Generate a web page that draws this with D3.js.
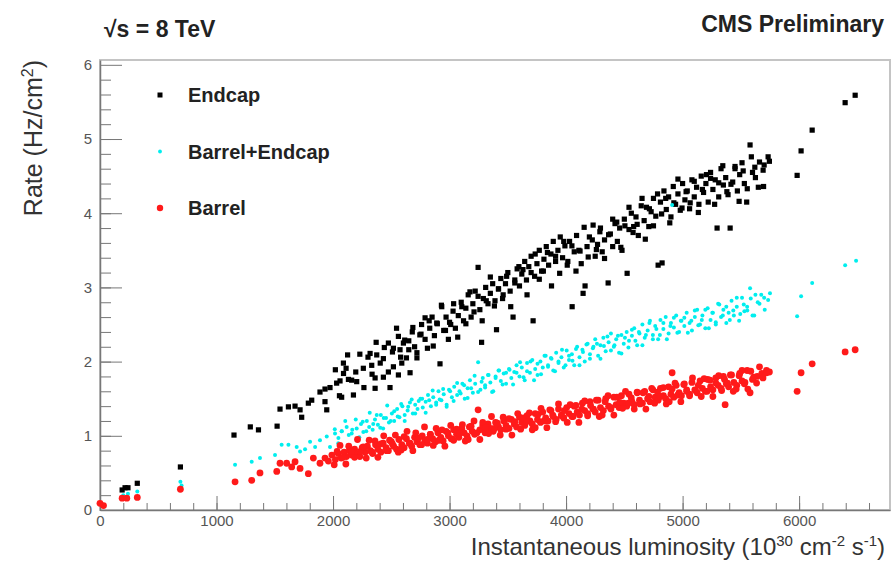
<!DOCTYPE html>
<meta charset="utf-8">
<style>
body { margin: 0; background: #ffffff; }
text { font-family: "Liberation Sans", Arial, sans-serif; }
.tick text { fill: #555555; font-size: 15px; }
</style>
<body>
<script src="https://d3js.org/d3.v7.min.js"></script>
<script>

// luminosity (1e30 cm-2 s-1), rate (Hz/cm2)
var endcapPts = [
  [190,0.27],[215,0.30],[240,0.30],[320,0.36],[690,0.58],
  [1150,1.01],[1290,1.12],[1360,1.08],[1520,1.13],[1545,1.36],[1617,1.39],[1674,1.40],[1717,1.35],[1731,1.25],
  [1788,1.44],[1817,1.48],[1888,1.59],[1931,1.63],[1974,1.65],[2031,1.71],[2060,1.74],[1931,1.46],[1946,1.35],
  [2089,1.98],[2112,1.91],[2132,1.76],[2203,1.73],[2074,1.52],[2175,1.55],[2260,1.91],[2332,1.95],[2318,2.11],
  [2375,2.09],[2432,2.04],[2361,1.78],[2432,1.79],[2361,1.64],[2489,1.65],[2475,2.25],[2518,2.18],[2561,2.34],
  [2575,2.16],[2604,2.25],[2518,1.93],[2561,1.82],[2590,1.98],
  [2630,2.05],[2650,2.28],[2661,1.85],[2680,2.40],[2700,2.20],[2720,2.12],[2745,2.36],[2760,2.50],[2790,2.30],
  [2810,2.18],[2830,2.45],[2850,2.60],[2870,2.35],[2890,2.52],[2918,1.97],[2933,2.74],[2950,2.42],[2970,2.60],[2990,2.30],
  [3010,2.50],[3030,2.68],[3050,2.45],[3075,2.62],[3100,2.80],[3120,2.55],[3140,2.72],[3160,2.90],[3185,2.60],
  [3200,2.78],[3220,2.95],[3245,3.27],[3260,2.70],[3275,2.26],[3290,2.85],[3310,3.00],[3330,2.78],[3350,2.92],
  [3370,3.05],[3390,2.82],[3403,2.43],[3420,2.98],[3440,3.12],[3460,2.90],[3480,3.05],[3500,3.20],
  [3520,2.95],[3545,2.60],[3560,3.10],[3580,3.25],[3600,3.02],[3620,3.18],[3645,3.35],[3660,3.10],[3680,3.28],
  [3700,3.42],[3717,2.55],[3730,3.15],[3750,3.32],[3770,3.50],[3790,3.22],[3810,3.38],[3830,3.55],[3850,3.30],
  [3870,3.45],[3890,3.62],[3910,3.35],[3930,3.50],[3950,3.68],[3970,3.40],[3990,3.56],
  [4010,3.30],[4030,3.62],[4052,2.74],[4070,3.48],[4090,3.70],[4110,3.50],[4130,3.32],[4146,2.92],[4163,3.02],
  [4180,3.55],[4200,3.68],[4232,3.84],[4250,3.42],[4270,3.58],[4290,3.75],[4310,3.48],[4330,3.64],[4361,3.06],
  [4380,3.72],[4400,3.55],[4420,3.86],[4440,3.62],[4460,3.80],[4480,3.50],[4500,3.92],
  [4524,3.19],[4540,3.78],[4560,4.00],[4580,3.82],[4600,3.95],[4620,3.70],[4652,4.20],[4670,3.90],[4690,4.08],
  [4710,3.82],[4730,4.02],[4750,4.20],[4770,3.96],[4790,3.30],[4810,4.15],[4824,3.33],[4840,4.30],[4860,4.05],
  [4880,4.22],[4900,3.95],[4920,4.36],[4940,4.12],[4960,4.26],[4980,4.04],
  [5000,4.40],[5020,4.18],[5040,4.30],[5060,4.06],[5080,4.45],[5100,4.22],[5120,4.35],[5140,4.12],[5160,4.50],
  [5180,4.28],[5200,4.40],[5220,4.15],[5240,4.55],[5260,4.32],[5280,4.45],[5296,3.80],[5310,4.22],[5330,4.60],
  [5350,4.38],[5370,4.48],[5390,4.25],[5408,3.80],[5430,4.42],[5450,4.60],[5470,4.30],[5490,4.52],[5510,4.68],
  [5530,4.40],[5550,4.15],[5579,4.92],[5600,4.55],[5620,4.62],[5650,4.35],[5691,4.58],[5700,4.65],[5734,4.76],[5745,4.70],
  [5983,4.51],[6017,4.84],[6112,5.12],[6395,5.49],[6481,5.59],
  // second sweep through the band
  [2020,1.89],[2055,1.54],[2090,1.84],[2125,2.09],[2160,1.75],[2195,1.86],[2230,2.10],[2265,1.65],[2300,2.06],
  [2335,1.83],[2370,2.26],[2405,1.98],[2440,2.19],[2475,1.86],[2510,2.13],[2545,2.45],[2580,2.06],[2615,2.29],
  [2650,2.16],[2685,2.46],[2720,2.05],[2755,2.37],[2790,2.59],[2825,2.55],[2860,2.21],[2895,2.51],[2930,2.76],
  [2965,2.42],[3000,2.53],[3035,2.78],[3070,2.33],[3105,2.74],[3140,2.51],[3175,2.94],[3210,2.67],[3245,2.88],
  [3280,2.55],[3315,2.82],[3350,3.14],[3385,2.75],[3420,2.98],[3455,2.85],[3490,3.15],[3525,2.74],[3560,3.06],
  [3595,3.28],[3630,3.24],[3665,2.90],[3700,3.20],[3735,3.45],[3770,3.11],[3805,3.22],[3840,3.47],[3875,3.02],
  [3910,3.42],[3945,3.19],[3980,3.62],[4015,3.35],[4050,3.56],[4085,3.22],[4120,3.49],[4155,3.81],[4190,3.41],
  [4225,3.64],[4260,3.51],[4295,3.80],[4330,3.39],[4365,3.71],[4400,3.92],[4435,3.88],[4470,3.54],[4505,3.83],
  [4540,4.08],[4575,3.74],[4610,3.85],[4645,4.10],[4680,3.65],[4715,4.06],[4750,3.83],[4785,4.26],[4820,3.99],
  [4855,4.20],[4890,3.87],[4925,4.14],[4960,4.46],[4995,4.07],[5030,4.29],[5065,4.14],[5100,4.43],[5135,4.01],
  [5170,4.32],[5205,4.52],[5240,4.47],[5275,4.12],[5310,4.41],[5345,4.64],[5380,4.29],[5415,4.39],[5450,4.63],
  [5485,4.16],[5520,4.57],[5555,4.33],[5590,4.76],[5625,4.48],[5660,4.69],[5695,4.36]
];

var bothPts = [
  [200,0.20],[240,0.22],[320,0.25],[690,0.38],[700,0.33],
  [1159,0.61],[1302,0.65],[1373,0.70],[1502,0.74],[1559,0.88],[1617,0.88],[1688,0.85],[1717,0.79],[1760,0.82],
  [1803,0.92],[1846,0.85],[1888,0.94],[1946,0.99],[1974,0.85],
  [2017,1.03],[2046,0.97],[2074,1.06],[2117,1.12],[2160,1.03],[2203,1.10],[2240,1.16],[2260,1.05],[2290,1.20],
  [2310,1.12],[2340,1.08],[2360,1.22],[2385,1.15],[2410,1.28],[2430,1.10],[2455,1.24],[2480,1.18],
  [2505,1.30],[2525,1.20],[2550,1.36],[2570,1.25],[2595,1.40],[2615,1.28],[2640,1.34],[2660,1.45],[2685,1.30],
  [2705,1.42],[2725,1.36],[2750,1.50],[2770,1.38],[2795,1.46],[2815,1.55],[2840,1.40],[2860,1.52],[2885,1.45],
  [2905,1.60],[2930,1.48],[2950,1.56],[2975,1.42],[2995,1.62],
  [3020,1.52],[3040,1.66],[3065,1.55],[3085,1.60],[3110,1.70],[3130,1.50],[3155,1.64],[3175,1.75],[3200,1.58],
  [3220,1.70],[3245,1.99],[3265,1.62],[3285,1.78],[3305,1.68],[3330,1.82],[3350,1.72],[3375,1.60],[3395,1.80],
  [3420,1.88],[3440,1.74],[3465,1.84],[3485,1.70],
  [3510,1.90],[3530,1.78],[3555,1.86],[3575,1.95],[3600,1.80],[3620,1.92],[3645,1.75],[3665,1.98],[3690,1.85],
  [3710,2.02],[3735,1.90],[3755,1.82],[3780,2.00],[3800,1.92],[3825,2.08],[3845,1.95],[3870,2.05],[3890,1.88],
  [3915,2.12],[3935,1.98],[3960,2.06],[3980,1.92],
  [4005,2.15],[4025,2.02],[4050,2.10],[4070,1.95],[4095,2.20],[4115,2.06],[4140,2.16],[4160,2.00],[4185,2.24],
  [4205,2.10],[4230,2.18],[4250,2.30],[4275,2.08],[4295,2.22],[4320,2.32],[4340,2.14],[4365,2.26],[4385,2.38],
  [4410,2.20],[4430,2.30],[4455,2.12],[4475,2.36],[4495,2.24],
  [4520,2.40],[4540,2.28],[4565,2.35],[4585,2.45],[4610,2.22],[4630,2.38],[4655,2.50],[4675,2.32],[4700,2.42],
  [4720,2.55],[4745,2.36],[4765,2.48],[4790,2.30],[4810,2.56],[4835,2.44],[4855,2.60],[4880,2.38],[4900,2.52],
  [4910,4.11],[4925,2.46],[4945,2.62],[4970,2.40],[4990,2.55],
  [5015,2.48],[5035,2.66],[5060,2.52],[5080,2.42],[5105,2.60],[5125,2.70],[5150,2.50],[5170,2.62],[5195,2.45],
  [5215,2.72],[5240,2.56],[5260,2.66],[5285,2.50],[5305,2.78],[5330,2.60],[5350,2.70],[5375,2.52],[5395,2.66],
  [5420,2.82],[5440,2.62],[5465,2.74],[5485,2.55],[5510,2.86],[5530,2.68],[5554,2.74],[5579,2.99],[5600,2.62],
  [5625,2.90],[5660,2.78],[5700,2.86],[5734,2.83],[5750,2.92],
  [5983,2.61],[6017,2.88],[6112,3.06],[6395,3.30],[6489,3.36],
  // second sweep through the band
  [2015,1.09],[2045,0.90],[2075,1.06],[2105,1.20],[2135,1.01],[2165,1.08],[2195,1.22],[2225,0.98],[2255,1.19],
  [2285,1.06],[2315,1.31],[2345,1.16],[2375,1.28],[2405,1.11],[2435,1.24],[2465,1.41],[2495,1.20],[2525,1.33],
  [2555,1.26],[2585,1.43],[2615,1.20],[2645,1.39],[2675,1.49],[2705,1.30],[2735,1.47],[2765,1.50],[2795,1.31],
  [2825,1.48],[2855,1.61],[2885,1.42],[2915,1.49],[2945,1.63],[2975,1.39],[3005,1.60],[3035,1.47],[3065,1.71],
  [3095,1.57],[3125,1.68],[3155,1.51],[3185,1.64],[3215,1.81],[3245,1.59],[3275,1.73],[3305,1.65],[3335,1.82],
  [3365,1.59],[3395,1.78],[3425,1.88],[3455,1.69],[3485,1.85],[3515,1.89],[3545,1.69],[3575,1.85],[3605,1.99],
  [3635,1.79],[3665,1.87],[3695,2.00],[3725,1.75],[3755,1.97],[3785,1.83],[3815,2.08],[3845,1.93],[3875,2.04],
  [3905,1.87],[3935,2.00],[3965,2.16],[3995,1.95],[4025,2.08],[4055,2.01],[4085,2.17],[4115,1.95],[4145,2.13],
  [4175,2.23],[4205,2.04],[4235,2.20],[4265,2.24],[4295,2.04],[4325,2.21],[4355,2.34],[4385,2.15],[4415,2.22],
  [4445,2.35],[4475,2.11],[4505,2.32],[4535,2.19],[4565,2.43],[4595,2.28],[4625,2.40],[4655,2.22],[4685,2.36],
  [4715,2.52],[4745,2.30],[4775,2.44],[4805,2.36],[4835,2.52],[4865,2.30],[4895,2.48],[4925,2.59],[4955,2.39],
  [4985,2.55],[5015,2.59],[5045,2.39],[5075,2.55],[5105,2.69],[5135,2.49],[5165,2.56],[5195,2.70],[5225,2.45],
  [5255,2.66],[5285,2.53],[5315,2.77],[5345,2.62],[5375,2.74],[5405,2.56],[5435,2.69],[5465,2.86],[5495,2.64],
  [5525,2.77],[5555,2.69],[5585,2.85],[5615,2.62],[5645,2.80],[5675,2.90],[5705,2.70]
];

var barrelPts = [
  [0,0.09],[30,0.06],[190,0.16],[230,0.16],[320,0.17],[690,0.28],
  [1159,0.38],[1302,0.40],[1373,0.50],[1517,0.52],[1545,0.63],[1602,0.63],[1645,0.58],[1674,0.65],[1717,0.56],
  [1788,0.49],[1831,0.70],[1888,0.63],[1931,0.70],[1960,0.66],[1990,0.74],
  [2020,0.68],[2045,0.76],[2070,0.70],[2095,0.78],[2115,0.72],[2140,0.80],[2160,0.74],[2185,0.82],[2205,0.76],
  [2230,0.72],[2250,0.84],[2275,0.78],[2295,0.86],[2320,0.80],[2340,0.76],[2365,0.88],[2385,0.82],[2410,0.78],
  [2430,0.90],[2455,0.84],[2475,0.80],
  [2500,0.92],[2520,0.86],[2545,0.82],[2565,0.95],[2590,0.88],[2610,0.84],[2630,0.96],[2655,0.90],[2675,0.86],
  [2700,0.98],[2720,0.92],[2745,0.88],[2765,1.00],[2790,0.94],[2810,0.90],[2835,1.02],[2855,0.96],[2880,0.92],
  [2900,1.04],[2925,0.98],[2945,0.93],[2970,1.06],[2990,1.00],
  [3015,0.96],[3035,1.08],[3060,1.02],[3080,0.98],[3105,1.10],[3125,1.04],[3150,1.00],[3170,1.12],[3195,1.06],
  [3215,1.02],[3245,1.35],[3260,1.08],[3285,1.14],[3305,1.04],[3330,1.16],[3350,1.10],[3375,1.06],[3395,1.18],
  [3420,1.12],[3440,1.08],[3465,1.20],[3485,1.14],
  [3510,1.10],[3530,1.22],[3555,1.16],[3575,1.12],[3600,1.25],[3620,1.18],[3645,1.14],[3665,1.27],[3690,1.20],
  [3710,1.16],[3735,1.30],[3755,1.22],[3780,1.18],[3800,1.32],[3825,1.24],[3845,1.20],[3870,1.34],[3890,1.26],
  [3915,1.22],[3935,1.36],[3960,1.28],[3980,1.24],
  [4005,1.38],[4025,1.30],[4050,1.26],[4070,1.40],[4095,1.32],[4115,1.28],[4140,1.44],[4160,1.34],[4185,1.30],
  [4205,1.46],[4230,1.36],[4250,1.32],[4275,1.48],[4295,1.38],[4320,1.34],[4340,1.50],[4365,1.40],[4385,1.36],
  [4410,1.52],[4430,1.42],[4455,1.38],[4475,1.54],[4495,1.44],
  [4520,1.40],[4540,1.56],[4565,1.46],[4585,1.42],[4610,1.58],[4630,1.48],[4655,1.44],[4675,1.60],[4700,1.50],
  [4720,1.46],[4745,1.62],[4765,1.52],[4790,1.48],[4810,1.64],[4835,1.54],[4855,1.50],[4880,1.66],[4900,1.56],
  [4910,1.85],[4925,1.52],[4945,1.68],[4970,1.58],[4990,1.54],
  [5015,1.70],[5035,1.60],[5060,1.56],[5080,1.72],[5105,1.62],[5125,1.58],[5150,1.74],[5170,1.64],[5195,1.60],
  [5215,1.76],[5240,1.66],[5260,1.62],[5285,1.78],[5305,1.68],[5330,1.64],[5350,1.80],[5365,1.42],[5375,1.70],
  [5395,1.66],[5420,1.82],[5440,1.72],[5465,1.68],[5490,1.84],[5510,1.74],[5530,1.70],[5554,1.88],[5579,1.58],
  [5600,1.76],[5640,1.80],[5680,1.84],[5720,1.88],[5745,1.86],
  [5983,1.60],[6017,1.85],[6112,1.97],[6395,2.13],[6481,2.16],
  // second sweep through the band
  [2010,0.61],[2035,0.79],[2060,0.87],[2085,0.71],[2110,0.62],[2135,0.86],[2160,0.79],[2185,0.71],[2210,0.95],
  [2235,0.79],[2260,0.85],[2285,0.70],[2310,0.94],[2335,0.78],[2360,0.93],[2385,0.71],[2410,0.89],[2435,1.00],
  [2460,0.80],[2485,0.94],[2510,0.89],[2535,1.01],[2560,0.78],[2585,0.81],[2610,0.99],[2635,1.06],[2660,0.90],
  [2685,0.80],[2710,1.04],[2735,0.97],[2760,0.88],[2785,1.12],[2810,0.95],[2835,1.02],[2860,0.87],[2885,1.10],
  [2910,0.94],[2935,1.08],[2960,0.86],[2985,1.04],[3010,1.14],[3035,0.94],[3060,1.09],[3085,1.03],[3110,1.15],
  [3135,0.93],[3160,0.95],[3185,1.13],[3210,1.20],[3235,1.04],[3260,0.95],[3285,1.18],[3310,1.11],[3335,1.03],
  [3360,1.26],[3385,1.10],[3410,1.17],[3435,1.01],[3460,1.25],[3485,1.09],[3510,1.23],[3535,1.01],[3560,1.19],
  [3585,1.30],[3610,1.09],[3635,1.24],[3660,1.19],[3685,1.31],[3710,1.08],[3735,1.11],[3760,1.29],[3785,1.37],
  [3810,1.20],[3835,1.11],[3860,1.35],[3885,1.28],[3910,1.19],[3935,1.43],[3960,1.27],[3985,1.34],[4010,1.18],
  [4035,1.42],[4060,1.26],[4085,1.41],[4110,1.18],[4135,1.36],[4160,1.47],[4185,1.27],[4210,1.41],[4235,1.36],
  [4260,1.48],[4285,1.26],[4310,1.28],[4335,1.46],[4360,1.54],[4385,1.38],[4410,1.28],[4435,1.52],[4460,1.45],
  [4485,1.37],[4510,1.60],[4535,1.44],[4560,1.51],[4585,1.36],[4610,1.59],[4635,1.43],[4660,1.58],[4685,1.36],
  [4710,1.53],[4735,1.64],[4760,1.44],[4785,1.59],[4810,1.53],[4835,1.65],[4860,1.43],[4885,1.46],[4910,1.63],
  [4935,1.71],[4960,1.55],[4985,1.46],[5010,1.69],[5035,1.62],[5060,1.54],[5085,1.78],[5110,1.61],[5135,1.68],
  [5160,1.53],[5185,1.77],[5210,1.60],[5235,1.75],[5260,1.53],[5285,1.71],[5310,1.81],[5335,1.61],[5360,1.76],
  [5385,1.71],[5410,1.82],[5435,1.60],[5460,1.63],[5485,1.81],[5510,1.88],[5535,1.72],[5560,1.63],[5585,1.87],
  [5610,1.79],[5635,1.71],[5660,1.93],[5690,1.78],[5720,1.85]
];

var legendNames = ["Endcap", "Barrel+Endcap", "Barrel"];
var legendColors = ["#000000", "#00eeee", "#ff1a1a"];
var xTicks = [0, 1000, 2000, 3000, 4000, 5000, 6000];
var yTicks = [0, 1, 2, 3, 4, 5, 6];

var W = 895, H = 563;
var margin = {top: 60, right: 5, bottom: 53, left: 100};
var width = W - margin.left - margin.right,
    height = H - margin.top - margin.bottom;

var svg = d3.select("body").append("svg")
    .attr("width", W)
    .attr("height", H);

svg.append("rect").attr("width", W).attr("height", H).attr("fill", "#ffffff");

var g = svg.append("g")
    .attr("transform", "translate(" + margin.left + "," + margin.top + ")");

var x = d3.scaleLinear().domain([0, 6780]).range([0, width]);
var y = d3.scaleLinear().domain([0, 6.065]).range([height, 0]);

// frame
g.append("rect")
  .attr("width", width).attr("height", height)
  .attr("fill", "none").attr("stroke", "#c4c4c4").attr("stroke-width", 2);

// minor ticks
g.append("g")
  .attr("transform", "translate(0," + height + ")")
  .call(d3.axisBottom(x).tickValues(d3.range(0, 6601, 200)).tickSizeInner(-7).tickSizeOuter(0).tickFormat(""))
  .call(function(a) { a.select(".domain").remove(); a.selectAll("line").attr("stroke", "#777"); });

g.append("g")
  .call(d3.axisLeft(y).tickValues(d3.range(0, 30).map(function(i) { return i * 0.2; })).tickSizeInner(-11).tickSizeOuter(0).tickFormat(""))
  .call(function(a) { a.select(".domain").remove(); a.selectAll("line").attr("stroke", "#777"); });

// major ticks + labels
var xAxis = g.append("g")
  .attr("transform", "translate(0," + height + ")")
  .call(d3.axisBottom(x).tickValues(xTicks).tickSizeInner(-14).tickSizeOuter(0).tickPadding(5).tickFormat(d3.format("d")));
xAxis.select(".domain").attr("stroke", "#777").attr("stroke-width", 1.5);
xAxis.selectAll("line").attr("stroke", "#777");

var yAxis = g.append("g")
  .call(d3.axisLeft(y).tickValues(yTicks).tickSizeInner(-22).tickSizeOuter(0).tickPadding(8).tickFormat(d3.format("d")));
yAxis.select(".domain").attr("stroke", "#777").attr("stroke-width", 1.5);
yAxis.selectAll("line").attr("stroke", "#777");

// the points
g.selectAll(".endcap")
  .data(endcapPts)
  .enter().append("rect")
  .attr("class", "endcap")
  .attr("x", function(d) { return x(d[0]) - 2.6; })
  .attr("y", function(d) { return y(d[1]) - 2.6; })
  .attr("width", 5.2).attr("height", 5.2)
  .attr("fill", legendColors[0]);

g.selectAll(".both")
  .data(bothPts)
  .enter().append("circle")
  .attr("class", "both")
  .attr("cx", function(d) { return x(d[0]); })
  .attr("cy", function(d) { return y(d[1]); })
  .attr("r", 2)
  .attr("fill", legendColors[1]);

g.selectAll(".barrel")
  .data(barrelPts)
  .enter().append("circle")
  .attr("class", "barrel")
  .attr("cx", function(d) { return x(d[0]); })
  .attr("cy", function(d) { return y(d[1]); })
  .attr("r", 3.4)
  .attr("fill", legendColors[2]);

// legend
var legend = svg.append("g").attr("transform", "translate(160,95)");
legendNames.forEach(function(name, i) {
  var ly = i * 56.5;
  if (i == 0) {
    legend.append("rect").attr("x", -2.5).attr("y", ly - 2.5).attr("width", 5).attr("height", 5).attr("fill", legendColors[0]);
  } else {
    legend.append("circle").attr("cx", 0).attr("cy", ly).attr("r", i == 1 ? 1.9 : 3.2).attr("fill", legendColors[i]);
  }
  legend.append("text")
    .attr("x", 28).attr("y", ly + 7)
    .style("font-size", "20px").style("font-weight", "bold").style("fill", "#222")
    .text(name);
});

// headers
svg.append("text")
  .attr("x", 104).attr("y", 37)
  .style("font-size", "23px").style("font-weight", "bold").style("fill", "#222")
  .text("\u221As = 8 TeV");

svg.append("text")
  .attr("x", 884).attr("y", 32)
  .attr("text-anchor", "end")
  .style("font-size", "23px").style("font-weight", "bold").style("fill", "#222")
  .text("CMS Preliminary");

// axis titles
var xt = svg.append("text")
  .attr("x", 885).attr("y", 555)
  .attr("text-anchor", "end")
  .style("font-size", "24px").style("fill", "#333");
xt.append("tspan").text("Instantaneous luminosity (10");
xt.append("tspan").attr("dy", -9).style("font-size", "15px").text("30");
xt.append("tspan").attr("dy", 9).text(" cm");
xt.append("tspan").attr("dy", -9).style("font-size", "15px").text("-2");
xt.append("tspan").attr("dy", 9).text(" s");
xt.append("tspan").attr("dy", -9).style("font-size", "15px").text("-1");
xt.append("tspan").attr("dy", 9).text(")");

var yt = svg.append("text")
  .attr("transform", "translate(42,60) rotate(-90)")
  .attr("text-anchor", "end")
  .style("font-size", "25px").style("fill", "#333");
yt.append("tspan").text("Rate (Hz/cm");
yt.append("tspan").attr("dy", -9).style("font-size", "16px").text("2");
yt.append("tspan").attr("dy", 9).text(")");

</script>
</body>
